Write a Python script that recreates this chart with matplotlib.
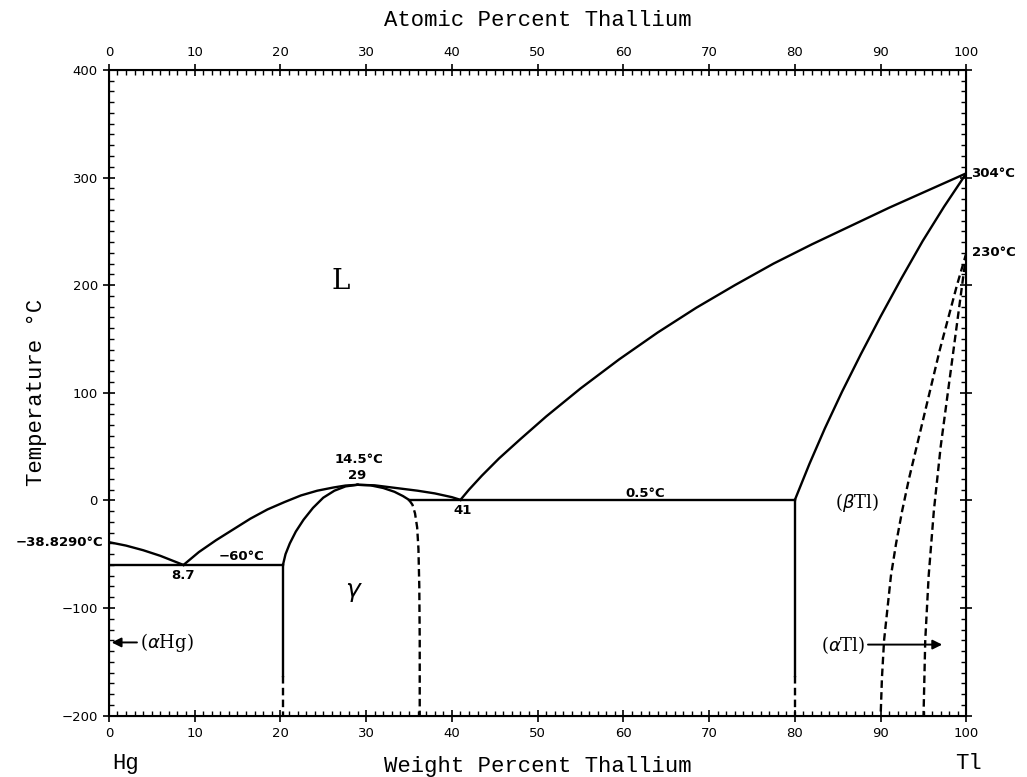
import matplotlib.pyplot as plt
from matplotlib.ticker import MultipleLocator

# Hg-Tl phase diagram
hg_liq_x = [0, 2, 4, 6, 8.7]
hg_liq_y = [-38.8, -42, -46.3, -51.5, -60]

liq_left_x = [8.7, 10.5, 12.5, 14.5, 16.5, 18.5, 20.5, 22.4, 24.3, 26.2, 27.6, 29]
liq_left_y = [-60, -48, -37, -27, -17, -8.4, -1.5, 4.6, 9, 12, 13.8, 14.5]

liq_mid_x = [29, 31, 34, 36, 38, 40, 41]
liq_mid_y = [14.5, 14, 11, 9, 6.5, 3, 0.5]

gam_left_x = [20.3, 20.6, 21.1, 21.8, 22.7, 23.8, 25.0, 26.3, 27.6, 29]
gam_left_y = [-60, -50, -40, -29, -18, -7, 2.5, 9, 13, 14.5]

gam_right_x = [29, 30.5, 32, 33.3, 34.3, 35]
gam_right_y = [14.5, 14, 11.5, 8, 4, 0.5]

gam_dash_x = [35, 35.4, 35.7, 35.95, 36.1, 36.2, 36.25, 36.25]
gam_dash_y = [0.5, -4, -12, -25, -45, -80, -130, -200]

tl_liq_x = [41, 42, 43.5, 45.5, 48, 51, 55, 59.5, 64, 68.5, 73, 77.5, 82, 86.5, 91, 95.5, 100]
tl_liq_y = [0.5, 10, 23, 39, 57, 78, 104, 131, 156, 179, 200, 220, 238, 255, 272, 288, 304]

tl_sol_x = [80, 81.7, 83.5, 85.5, 87.7, 90, 92.4, 94.9, 97.4, 100]
tl_sol_y = [0.5, 34, 67, 101, 136, 171, 206, 241, 273, 304]

atl_y = [230, 200, 170, 140, 110, 80, 50, 20, -10, -40, -70, -100, -130, -165, -200]
atl_left_x = [100, 98.9, 97.9, 96.9, 96.0, 95.1, 94.2, 93.3, 92.5, 91.8, 91.2, 90.8, 90.4, 90.15, 90]
atl_right_x = [100, 99.5, 99.0, 98.5, 98.0, 97.5, 97.0, 96.6, 96.2, 95.9, 95.6, 95.4, 95.2, 95.1, 95.0]

T_eut = -60
T_per = 0.5
x_gam_lo = 20.3
x_gam_hi = 35
x_btl = 80
T_dash_start = -163

fig = plt.figure(figsize=(10.27, 7.77), dpi=100)
ax = fig.add_axes([0.106, 0.079, 0.835, 0.831])

lw = 1.7
dash = (0, (3.2, 1.8))
k = 'black'

ax.plot(hg_liq_x, hg_liq_y, color=k, lw=lw)
ax.plot(liq_left_x, liq_left_y, color=k, lw=lw)
ax.plot(liq_mid_x, liq_mid_y, color=k, lw=lw)
ax.plot(gam_left_x, gam_left_y, color=k, lw=lw)
ax.plot(gam_right_x, gam_right_y, color=k, lw=lw)
ax.plot(gam_dash_x, gam_dash_y, color=k, lw=lw, ls=dash)
ax.plot(tl_liq_x, tl_liq_y, color=k, lw=lw)
ax.plot(tl_sol_x, tl_sol_y, color=k, lw=lw)
ax.plot(atl_left_x, atl_y, color=k, lw=lw, ls=dash)
ax.plot(atl_right_x, atl_y, color=k, lw=lw, ls=dash)

# invariant lines
ax.plot([0, x_gam_lo], [T_eut, T_eut], color=k, lw=lw)
ax.plot([x_gam_hi, x_btl], [T_per, T_per], color=k, lw=lw)

# vertical phase limits
for xv, top_t in [(x_gam_lo, T_eut), (x_btl, T_per)]:
    ax.plot([xv, xv], [top_t, T_dash_start], color=k, lw=lw)
    ax.plot([xv, xv], [T_dash_start, -200], color=k, lw=lw, ls=dash)

ax.set_xlim(0, 100)
ax.set_ylim(-200, 400)

ax.xaxis.set_major_locator(MultipleLocator(10))
ax.xaxis.set_minor_locator(MultipleLocator(1))
ax.yaxis.set_major_locator(MultipleLocator(100))
ax.yaxis.set_minor_locator(MultipleLocator(10))
ax.tick_params(which='major', direction='inout', length=9, width=1.2,
               right=True, top=False, labelsize=9.5)
ax.tick_params(which='minor', direction='in', length=3.5, width=1.0,
               right=True, top=False)
for s in ax.spines.values():
    s.set_linewidth(1.5)

# atomic percent axis (Hg and Tl masses are nearly equal, so it runs with wt%)
top = ax.twiny()
top.set_xlim(0, 100)
top.xaxis.set_major_locator(MultipleLocator(10))
top.xaxis.set_minor_locator(MultipleLocator(1))
top.tick_params(which='major', direction='inout', length=9, width=1.2, labelsize=9.5)
top.tick_params(which='minor', direction='in', length=3.5, width=1.0)

mono = 'Liberation Mono'
ax.set_xlabel('Weight Percent Thallium', family=mono, fontsize=16, labelpad=12)
top.set_xlabel('Atomic Percent Thallium', family=mono, fontsize=16, labelpad=14)
ax.set_ylabel('Temperature \u00b0C', family=mono, fontsize=16, labelpad=10)

fig.text(0.122, 0.004, 'Hg', family=mono, fontsize=16, ha='center', va='bottom')
fig.text(0.943, 0.004, 'Tl', family=mono, fontsize=16, ha='center', va='bottom')

serif = 'DejaVu Serif'
ax.text(27, 203, 'L', family=serif, fontsize=20, ha='center', va='center')
ax.text(28.6, -85, r'$\gamma$', fontsize=18, ha='center', va='center')
ax.text(87.2, -2, r'($\beta$Tl)', family=serif, fontsize=13, ha='center', va='center')

small = dict(fontsize=9.5, fontweight='bold', color=k)
ax.text(29.2, 38, '14.5\u00b0C', ha='center', va='center', **small)
ax.text(29, 23, '29', ha='center', va='center', **small)
ax.text(41.3, -9, '41', ha='center', va='center', **small)
ax.text(8.7, -70, '8.7', ha='center', va='center', **small)
ax.text(15.5, -52, '\u221260\u00b0C', ha='center', va='center', **small)
ax.text(62.5, 6, '0.5\u00b0C', ha='center', va='center', **small)
ax.text(-0.6, -38.8, '\u221238.8290\u00b0C', ha='right', va='center',
        clip_on=False, **small)
ax.text(100.6, 304, '304\u00b0C', ha='left', va='center', clip_on=False, **small)
ax.text(100.6, 230, '230\u00b0C', ha='left', va='center', clip_on=False, **small)

# phase labels with arrows
ax.annotate('', xy=(0, -132), xytext=(3.6, -132),
            arrowprops=dict(arrowstyle='-|>', color=k, lw=1.4, mutation_scale=14))
ax.text(3.6, -132, r'($\alpha$Hg)', family=serif, fontsize=13, ha='left', va='center')
ax.annotate('', xy=(97.5, -134), xytext=(88.2, -134),
            arrowprops=dict(arrowstyle='-|>', color=k, lw=1.4, mutation_scale=14))
ax.text(88.2, -134, r'($\alpha$Tl)', family=serif, fontsize=13, ha='right', va='center')

fig.savefig('out.png', dpi=100)
